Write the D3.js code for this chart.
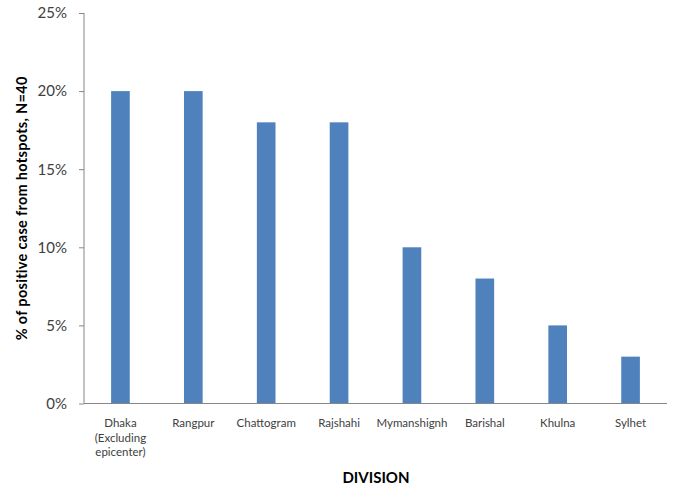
<!DOCTYPE html>
<html>
<head>
<meta charset="utf-8">
<script src="https://cdn.jsdelivr.net/npm/d3@7/dist/d3.min.js"></script>
<style>
  html, body { margin: 0; padding: 0; background: #fff; }
  svg { display: block; }
</style>
</head>
<body>
<svg id="chart" width="674" height="489"></svg>
<script>
// Division names (multi-line labels split on "\n")
const divisions = [
  "Dhaka\n(Excluding\nepicenter)",
  "Rangpur",
  "Chattogram",
  "Rajshahi",
  "Mymanshignh",
  "Barishal",
  "Khulna",
  "Sylhet"
];
// Share of positive cases from hotspots, percent
const positivePct = [20, 20, 18, 18, 10, 8, 5, 3];
// Y axis tick values, percent
const yTicks = [0, 5, 10, 15, 20, 25];

const yTitle = "% of positive case from hotspots, N=40";
const xTitle = "DIVISION";

const svg = d3.select("#chart");
const margin = { left: 84, right: 7, top: 13, bottom: 85.5 };
const W = 674, H = 489;
const x0 = margin.left, x1 = W - margin.right;
const y0 = H - margin.bottom, y1 = margin.top;

const data = divisions.map((d, i) => ({ name: d, value: positivePct[i] }));

const x = d3.scaleBand()
  .domain(divisions)
  .range([x0, x1])
  .paddingInner(0.744)
  .paddingOuter(0.372);

const y = d3.scaleLinear().domain([0, 25]).range([y0, y1]);

const font = "Lato, 'Open Sans', sans-serif";
const axisGrey = "#868686";
const labelColor = "#404040";

// Bars
svg.append("g")
  .selectAll("rect")
  .data(data)
  .join("rect")
  .attr("x", d => x(d.name))
  .attr("y", d => y(d.value))
  .attr("width", x.bandwidth())
  .attr("height", d => y(0) - y(d.value))
  .attr("fill", "#4F81BD");

// Y axis
const yAxis = svg.append("g")
  .attr("transform", `translate(${x0},0)`)
  .call(d3.axisLeft(y).tickValues(yTicks).tickSize(5).tickPadding(12)
    .tickFormat(d => d + "%"));
yAxis.select(".domain").attr("stroke", axisGrey).attr("d", `M0,${y1}V${y0}`);
yAxis.selectAll(".tick line").attr("stroke", axisGrey);
yAxis.selectAll(".tick text")
  .attr("fill", labelColor)
  .style("font-family", font)
  .style("font-size", "15px");

// X axis
const xAxis = svg.append("g")
  .attr("transform", `translate(0,${y0})`)
  .call(d3.axisBottom(x).tickSize(0).tickPadding(0).tickFormat(""));
xAxis.select(".domain").attr("stroke", axisGrey).attr("d", `M${x0},0H${x1}`);

// Category labels, wrapped into lines
xAxis.selectAll(".tick text").remove();
xAxis.selectAll(".tick").each(function (d) {
  const t = d3.select(this).append("text")
    .attr("fill", labelColor)
    .attr("text-anchor", "middle")
    .style("font-family", font)
    .style("font-size", "11.5px");
  d.split("\n").forEach((line, i) => {
    t.append("tspan").attr("x", 0).attr("y", 23.5 + i * 14.6).text(line);
  });
});

// Axis titles
svg.append("text")
  .attr("transform", `translate(26.5,${(y0 + y1) / 2}) rotate(-90)`)
  .attr("text-anchor", "middle")
  .style("font-family", font)
  .style("font-size", "14.5px")
  .style("letter-spacing", "0.3px")
  .style("font-weight", "bold")
  .attr("fill", "#000")
  .text(yTitle);

svg.append("text")
  .attr("x", 376)
  .attr("y", 483)
  .attr("text-anchor", "middle")
  .style("font-family", font)
  .style("font-size", "15px")
  .style("font-weight", "bold")
  .attr("fill", "#000")
  .text(xTitle);
</script>
</body>
</html>
